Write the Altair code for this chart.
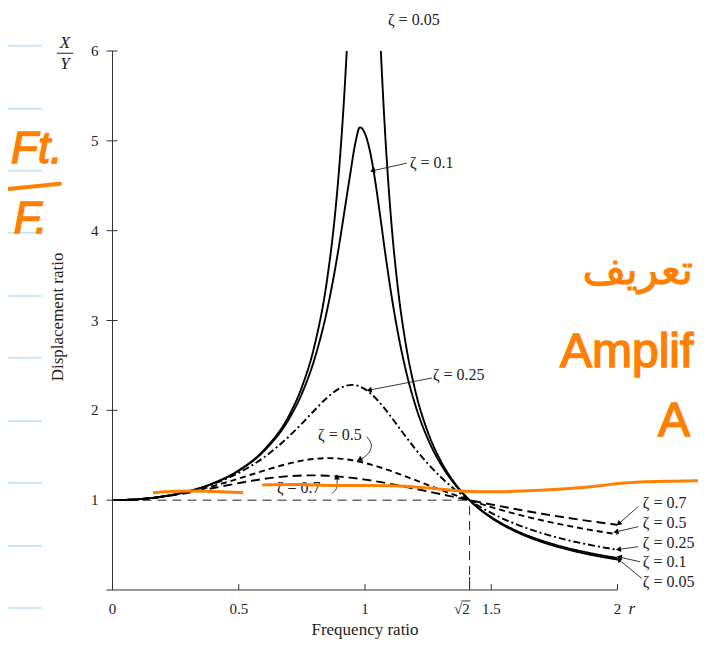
import altair as alt
import pandas as pd

# ---------------- data ----------------
zetas = ["0.05", "0.1", "0.25", "0.5", "0.7"]

r_fine = [0, 0.1, 0.2, 0.3, 0.4, 0.5, 0.6, 0.7, 0.75, 0.8, 0.85, 0.88, 0.9,
          0.92, 0.94, 0.96, 0.98, 1.0, 1.02, 1.04, 1.06, 1.08, 1.1, 1.13,
          1.16, 1.2, 1.25, 1.3, 1.35, 1.414, 1.5, 1.6, 1.7, 1.8, 1.9, 2.0]
t_005 = [1.0, 1.010, 1.042, 1.099, 1.190, 1.332, 1.559, 1.947, 2.259, 2.720,
         3.458, 4.145, 4.776, 5.609, 6.713, 8.105, 9.506, 10.05, 9.162, 7.606,
         6.176, 5.070, 4.244, 3.365, 2.762, 2.208, 1.749, 1.436, 1.211, 1.0,
         0.803, 0.646, 0.535, 0.452, 0.389, 0.339]
t_01 = [1.0, 1.010, 1.042, 1.099, 1.189, 1.328, 1.547, 1.909, 2.186, 2.571,
        3.117, 3.549, 3.882, 4.242, 4.602, 4.950, 5.150, 5.080, 4.880, 4.560,
        4.166, 3.752, 3.367, 2.868, 2.466, 2.052, 1.675, 1.401, 1.197, 1.0,
        0.812, 0.659, 0.550, 0.469, 0.406, 0.356]

r_coarse = [0, 0.1, 0.2, 0.3, 0.4, 0.5, 0.6, 0.7, 0.75, 0.8, 0.85, 0.9, 0.95,
            1.0, 1.05, 1.1, 1.15, 1.2, 1.3, 1.414, 1.5, 1.6, 1.7, 1.8, 1.9, 2.0]
t_025 = [1.0, 1.010, 1.041, 1.096, 1.181, 1.304, 1.477, 1.713, 1.853, 2.001,
         2.141, 2.245, 2.283, 2.236, 2.112, 1.939, 1.750, 1.567, 1.258, 1.0,
         0.858, 0.731, 0.633, 0.557, 0.497, 0.447]
t_05 = [1.0, 1.005, 1.040, 1.090, 1.158, 1.240, 1.329, 1.409, 1.440, 1.460,
        1.468, 1.463, 1.444, 1.414, 1.374, 1.328, 1.276, 1.222, 1.114, 1.0,
        0.923, 0.844, 0.776, 0.717, 0.665, 0.620]
t_07 = [1.0, 1.010, 1.039, 1.082, 1.135, 1.190, 1.237, 1.267, 1.275, 1.276,
        1.272, 1.262, 1.248, 1.229, 1.207, 1.181, 1.154, 1.126, 1.067, 1.0,
        0.952, 0.899, 0.849, 0.804, 0.763, 0.725]

x_tick_values = [0, 0.5, 1, 1.41421, 1.5, 2]
x_tick_labels = ["0", "0.5", "1", "√2", "1.5", "2"]
x_label_pos = [0, 0.5, 1, 1.384, 1.5, 2]
y_tick_values = [1, 2, 3, 4, 5, 6]
y_tick_labels = ["1", "2", "3", "4", "5", "6"]

# labels with straight arrows
lab_text = ["ζ = 0.05", "ζ = 0.1", "ζ = 0.25", "ζ = 0.5", "ζ = 0.7",
            "ζ = 0.7", "ζ = 0.5", "ζ = 0.25", "ζ = 0.1", "ζ = 0.05"]
lab_r = [1.091, 1.178, 1.269, 0.814, 0.651, 2.100, 2.100, 2.100, 2.100, 2.100]
lab_t = [6.35, 4.755, 2.394, 1.726, 1.136, 0.966, 0.743, 0.527, 0.315, 0.092]

arr_r0 = [1.165, 1.265, 2.082, 2.082, 2.082, 2.089, 2.096]
arr_t0 = [4.751, 2.360, 0.928, 0.705, 0.482, 0.315, 0.130]
arr_r1 = [1.033, 1.020, 2.007, 1.997, 2.007, 2.010, 2.007]
arr_t1 = [4.669, 2.227, 0.743, 0.649, 0.453, 0.364, 0.334]
arr_ang = [257, 258, 229, 257, 262, 282, 309]

# curved arrows (zeta=0.5 and zeta=0.7 labels)
curl_id = ["a", "a", "a", "a", "b", "b", "b", "b"]
curl_r = [1.007, 1.033, 1.013, 0.983, 0.868, 0.890, 0.890, 0.888]
curl_t = [1.707, 1.615, 1.504, 1.455, 1.077, 1.121, 1.206, 1.262]
curl_head_r = [0.981, 0.889]
curl_head_t = [1.458, 1.250]
curl_head_ang = [240, 0]

# handwritten orange annotation line
ink1_r = [0.160, 0.248, 0.335, 0.426, 0.517]
ink1_t = [1.083, 1.100, 1.106, 1.095, 1.083]
ink2_r = [0.593, 0.743, 0.873, 1.111, 1.269, 1.403, 1.535, 1.799, 1.957, 2.061, 2.353]
ink2_t = [1.169, 1.180, 1.158, 1.169, 1.132, 1.095, 1.088, 1.121, 1.169, 1.206, 1.217]

# notebook ruling at the left edge
rule_t = [6.058, 5.356, 4.666, 3.976, 3.274, 2.584, 1.882, 1.192, 0.490, -0.200]

# ---------------- build tables ----------------
rows = []
for z, rr, tt in [("0.05", r_fine, t_005), ("0.1", r_fine, t_01),
                  ("0.25", r_coarse, t_025), ("0.5", r_coarse, t_05),
                  ("0.7", r_coarse, t_07)]:
    for a, b in zip(rr, tt):
        rows.append({"r": a, "T": b, "zeta": z})
curves = pd.DataFrame(rows)

labels = pd.DataFrame({"txt": lab_text, "r": lab_r, "T": lab_t})
arrows = pd.DataFrame({"r0": arr_r0, "t0": arr_t0, "r1": arr_r1, "t1": arr_t1, "ang": arr_ang})
curls = pd.DataFrame({"id": curl_id, "r": curl_r, "T": curl_t, "k": list(range(len(curl_r)))})
heads = pd.concat([
    pd.DataFrame({"r": arr_r1, "T": arr_t1, "ang": arr_ang}),
    pd.DataFrame({"r": curl_head_r, "T": curl_head_t, "ang": curl_head_ang}),
], ignore_index=True)
ink = pd.concat([
    pd.DataFrame({"r": ink1_r, "T": ink1_t, "seg": "1"}),
    pd.DataFrame({"r": ink2_r, "T": ink2_t, "seg": "2"}),
], ignore_index=True)
ink["k"] = range(len(ink))

xs = alt.Scale(domain=[0, 2], nice=False, zero=False)
ys = alt.Scale(domain=[0, 6], nice=False, zero=False)


def X(f, **kw):
    return alt.X(f, type="quantitative", scale=xs, axis=None, **kw)


def Y(f, **kw):
    return alt.Y(f, type="quantitative", scale=ys, axis=None, **kw)


SERIF = "Liberation Serif"
ORANGE = "#ff8000"
INK = "#222"

curve_layer = alt.Chart(curves).mark_line(clip=True, strokeWidth=1.9, color="black",
                                          interpolate="monotone").encode(
    x=X("r"), y=Y("T"),
    strokeDash=alt.StrokeDash("zeta:N", legend=None,
                              scale=alt.Scale(domain=zetas,
                                              range=[[1, 0], [1, 0], [7, 3, 2, 3], [6, 4], [9, 5]])),
)

# reference dashed lines at T = 1 and r = sqrt(2)
ref = pd.DataFrame({"r0": [0, 1.41421], "r1": [1.41421, 1.41421], "t0": [1, 0], "t1": [1, 1]})
ref_layer = alt.Chart(ref).mark_rule(color=INK, strokeWidth=1, strokeDash=[9, 6]).encode(
    x=X("r0"), x2=alt.X2("r1"), y=Y("t0"), y2=alt.Y2("t1"))

# axis lines, ticks and tick labels
axes = pd.DataFrame({"r0": [-0.024, 0], "r1": [2, 0], "t0": [0, 0], "t1": [0, 6]})
axes_layer = alt.Chart(axes).mark_rule(color="#333", strokeWidth=1).encode(
    x=X("r0"), x2=alt.X2("r1"), y=Y("t0"), y2=alt.Y2("t1"))
yt = pd.DataFrame({"t": y_tick_values, "lab": y_tick_labels})
ytick_layer = alt.Chart(yt).mark_rule(color="#333", strokeWidth=1).encode(
    x=alt.value(-6), x2=alt.value(5), y=Y("t"))
ylab_layer = alt.Chart(yt).mark_text(align="right", baseline="middle", font=SERIF,
                                     fontSize=15, color=INK).encode(
    x=alt.value(-14), y=Y("t"), text="lab:N")
xt = pd.DataFrame({"r": x_tick_values, "h": [0.067, 0.067, 0.067, 0.145, 0.067, 0.067], "z": [0] * 6})
xtick_layer = alt.Chart(xt).mark_rule(color="#333", strokeWidth=1).encode(
    x=X("r"), y=Y("z"), y2=alt.Y2("h"))
xl = pd.DataFrame({"r": x_label_pos, "lab": x_tick_labels, "t": [-0.212] * 6})
xlab_layer = alt.Chart(xl).mark_text(align="center", baseline="middle", font=SERIF,
                                     fontSize=15, color=INK).encode(
    x=X("r"), y=Y("t"), text="lab:N")
sqrt_bar = pd.DataFrame({"r0": [1.382], "r1": [1.418], "t0": [-0.122]})
sqrt_bar_layer = alt.Chart(sqrt_bar).mark_rule(color=INK, strokeWidth=0.9).encode(
    x=X("r0"), x2=alt.X2("r1"), y=Y("t0"))

# labels and arrows
label_layer = alt.Chart(labels).mark_text(align="left", baseline="middle", font=SERIF,
                                          fontSize=16, color=INK).encode(
    x=X("r"), y=Y("T"), text="txt:N")
arrow_layer = alt.Chart(arrows).mark_rule(color=INK, strokeWidth=0.9).encode(
    x=X("r0"), x2=alt.X2("r1"), y=Y("t0"), y2=alt.Y2("t1"))
curl_layer = alt.Chart(curls).mark_line(color=INK, strokeWidth=0.9, interpolate="basis").encode(
    x=X("r"), y=Y("T"), detail="id:N", order="k:Q")
head_layer = alt.Chart(heads).mark_point(shape="triangle", filled=True, size=34, color="black",
                                         opacity=1).encode(
    x=X("r"), y=Y("T"), angle=alt.Angle("ang:Q", scale=None))

# axis titles and the r / X over Y labels
xtitle_layer = alt.Chart(pd.DataFrame({"txt": ["Frequency ratio"], "r": [1.0], "T": [-0.445]})).mark_text(
    font=SERIF, fontSize=17, color=INK).encode(x=X("r"), y=Y("T"), text="txt:N")
ytitle_layer = alt.Chart(pd.DataFrame({"txt": ["Displacement ratio"], "r": [-0.216], "T": [3.04]})).mark_text(
    font=SERIF, fontSize=17, color=INK, angle=270).encode(x=X("r"), y=Y("T"), text="txt:N")
ital = pd.DataFrame({"txt": ["r", "X", "Y"], "r": [2.057, -0.188, -0.188], "T": [-0.21, 6.09, 5.86]})
ital_layer = alt.Chart(ital).mark_text(font=SERIF, fontSize=17, fontStyle="italic", color=INK).encode(
    x=X("r"), y=Y("T"), text="txt:N")
frac = pd.DataFrame({"r0": [-0.22], "r1": [-0.155], "t0": [5.975]})
frac_layer = alt.Chart(frac).mark_rule(color=INK, strokeWidth=1).encode(
    x=X("r0"), x2=alt.X2("r1"), y=Y("t0"))

# notebook ruling and handwritten notes
ruling = pd.DataFrame({"t": rule_t, "r0": [-0.4158] * len(rule_t), "r1": [-0.2792] * len(rule_t)})
ruling_layer = alt.Chart(ruling).mark_rule(color="#cde6f6", strokeWidth=2).encode(
    x=X("r0"), x2=alt.X2("r1"), y=Y("t"))
ink_layer = alt.Chart(ink).mark_line(color=ORANGE, strokeWidth=3, interpolate="basis").encode(
    x=X("r"), y=Y("T"), detail="seg:N", order="k:Q")
hand = pd.DataFrame({"txt": ["Ft.", "F."], "r": [-0.300, -0.325], "T": [4.90, 4.12]})
hand_layer = alt.Chart(hand).mark_text(font="Liberation Sans", fontSize=44, fontStyle="italic",
                                       color=ORANGE, stroke=ORANGE, strokeWidth=1.5).encode(
    x=X("r"), y=Y("T"), text="txt:N")
hand_bar = pd.DataFrame({"r0": [-0.414], "r1": [-0.208], "t0": [4.465], "t1": [4.521]})
hand_bar_layer = alt.Chart(hand_bar).mark_rule(color=ORANGE, strokeWidth=4, strokeCap="round").encode(
    x=X("r0"), x2=alt.X2("r1"), y=Y("t0"), y2=alt.Y2("t1"))
arabic = pd.DataFrame({"txt": ["تعريف"], "r": [2.08], "T": [3.55]})
arabic_layer = alt.Chart(arabic).mark_text(font="DejaVu Sans", fontSize=42, color=ORANGE,
                                           stroke=ORANGE, strokeWidth=1).encode(
    x=X("r"), y=Y("T"), text="txt:N")
amp = pd.DataFrame({"txt": ["Amplif", "A"], "r": [1.772, 2.160], "T": [2.483, 1.715]})
amp_layer = alt.Chart(amp).mark_text(font="Liberation Sans", fontSize=48, align="left",
                                     baseline="alphabetic", color=ORANGE, stroke=ORANGE,
                                     strokeWidth=1.5).encode(
    x=X("r"), y=Y("T"), text="txt:N")

chart = alt.layer(
    ruling_layer, ref_layer, curve_layer, axes_layer, ytick_layer, ylab_layer,
    xtick_layer, xlab_layer, sqrt_bar_layer,
    arrow_layer, curl_layer, head_layer, label_layer,
    xtitle_layer, ytitle_layer, ital_layer, frac_layer,
    ink_layer, hand_layer, hand_bar_layer, arabic_layer, amp_layer,
).properties(
    width=505, height=539,
    padding={"left": 104.5, "top": 43, "right": 80, "bottom": 51},
    autosize=alt.AutoSizeParams(type="none"),
).configure_view(stroke=None)

chart.save("out.html", embed_options={"renderer": "svg", "actions": False})
